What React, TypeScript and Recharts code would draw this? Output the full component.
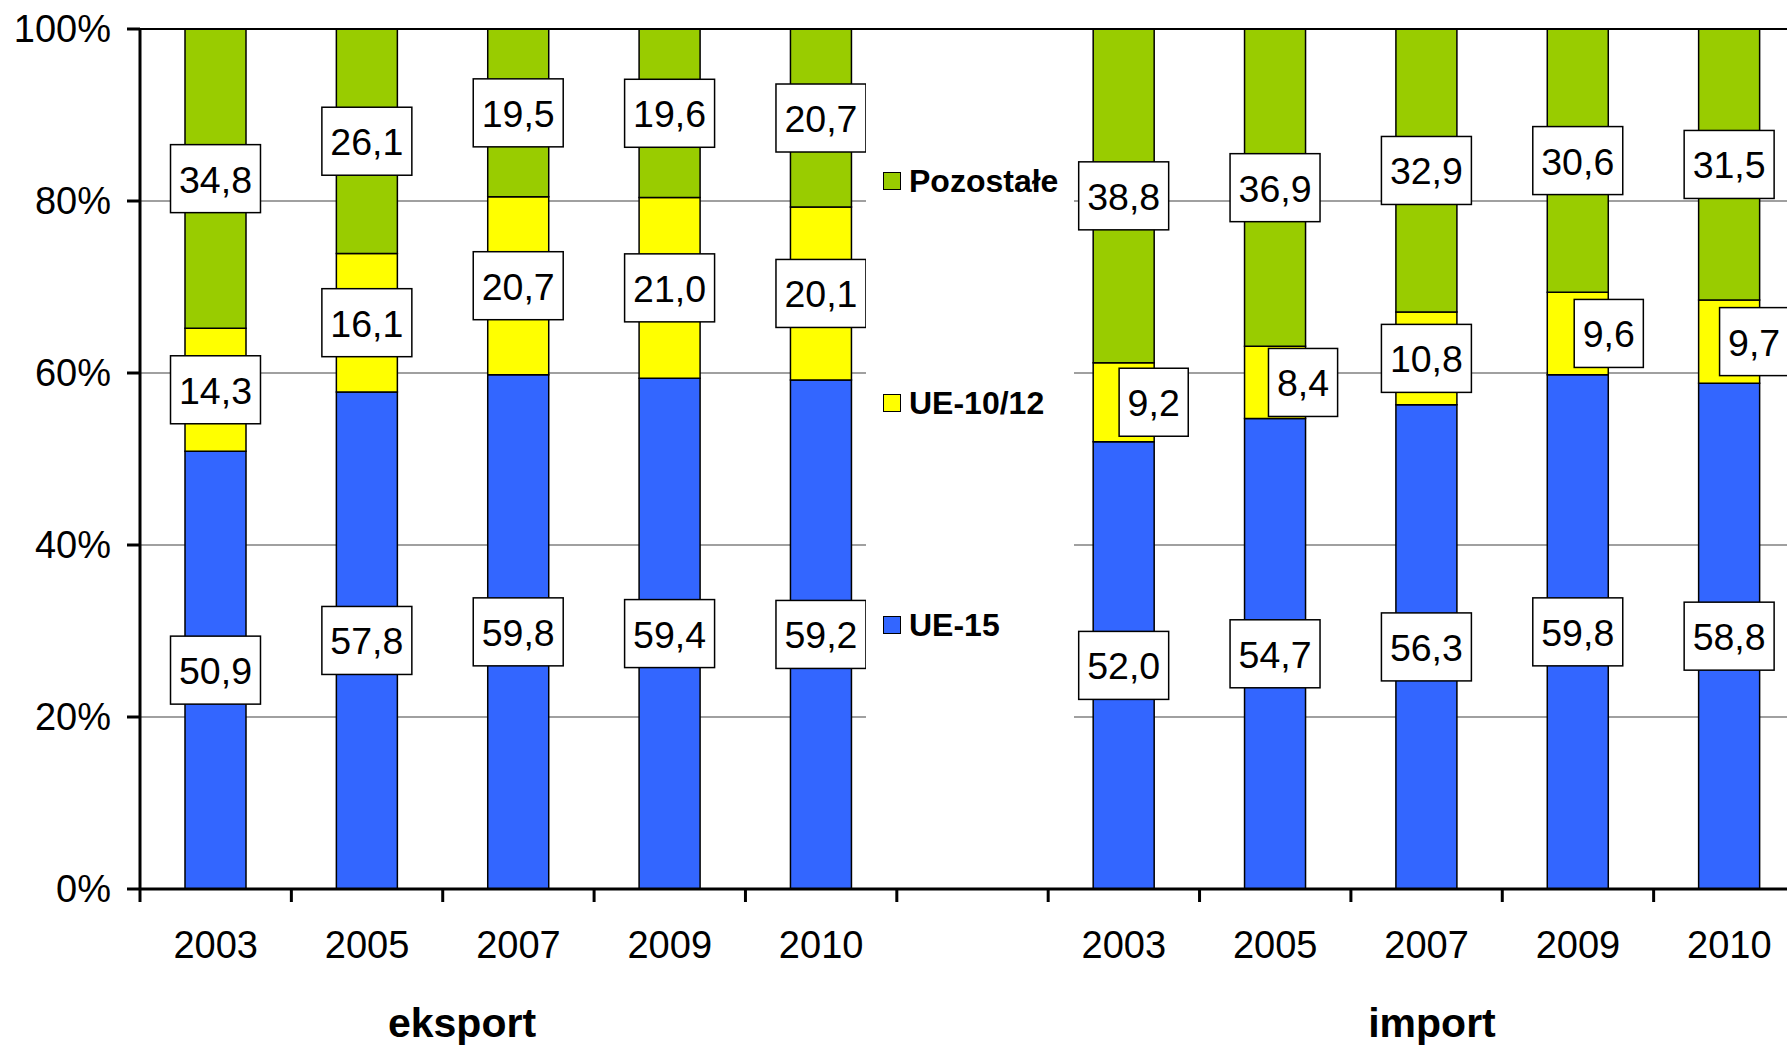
import React from "react";
import {
  BarChart, Bar, XAxis, YAxis, CartesianGrid, LabelList, ReferenceLine
} from "recharts";

const years = ["2003", "2005", "2007", "2009", "2010"];
const groupNames = ["eksport", "import"];
const seriesNames = ["UE-15", "UE-10/12", "Pozostałe"];
const seriesColors = ["#3366FF", "#FFFF00", "#99CC00"];

const eksportUE15 = [50.9, 57.8, 59.8, 59.4, 59.2];
const eksportUE1012 = [14.3, 16.1, 20.7, 21.0, 20.1];
const eksportPozostale = [34.8, 26.1, 19.5, 19.6, 20.7];

const importUE15 = [52.0, 54.7, 56.3, 59.8, 58.8];
const importUE1012 = [9.2, 8.4, 10.8, 9.6, 9.7];
const importPozostale = [38.8, 36.9, 32.9, 30.6, 31.5];

const yTicks = [0, 20, 40, 60, 80, 100];

// nudges (per slot) for the yellow labels that were moved to the right of the bar
const ue1012Shift = [0, 0, 0, 0, 0, 0, 30, 28, 0, 31, 25];

const rows = [
  ...years.map((y, i) => ({
    key: "e" + y, year: y,
    ue15: eksportUE15[i], ue1012: eksportUE1012[i], poz: eksportPozostale[i],
  })),
  { key: "gap", year: "" },
  ...years.map((y, i) => ({
    key: "i" + y, year: y,
    ue15: importUE15[i], ue1012: importUE1012[i], poz: importPozostale[i],
  })),
];

const FONT = "'Liberation Sans', Arial, sans-serif";
const W = 1805;
const H = 1046;
const LEFT = 140;
const TOP = 29;
const XAXIS_H = 157;
const PLOT_BOTTOM = H - XAXIS_H;
const SLOT = (W - LEFT) / rows.length;

const textWidth = (s: string, size: number) =>
  s.split("").reduce((w, c) => w + (c === "," ? 0.278 : 0.556), 0) * size;

const boxLabel = (shift?: number[]) => (props: any) => {
  const { x, y, width, height } = props;
  let value = props.value;
  if (Array.isArray(value)) value = value[1] - value[0];
  if (value == null || isNaN(value)) return null;
  const txt = Number(value).toFixed(1).replace(".", ",");
  const fs = 37.5;
  const bw = textWidth(txt, fs) + 17;
  const bh = 68;
  const slot = Math.floor((x + width / 2 - LEFT) / SLOT);
  const cx = x + width / 2 + (shift ? shift[slot] || 0 : 0);
  const cy = y + height / 2;
  return (
    <g>
      <rect x={cx - bw / 2} y={cy - bh / 2} width={bw} height={bh}
        fill="#fff" stroke="#000" strokeWidth={1.5} />
      <text x={cx} y={cy + 1} textAnchor="middle" dominantBaseline="central"
        fontSize={fs} fontFamily={FONT} fill="#000">{txt}</text>
    </g>
  );
};

const XTick = (props: any) => {
  const { x, payload, index } = props;
  const row = rows[index];
  const label = row ? row.year : payload.value;
  return (
    <g>
      <line x1={x - SLOT / 2} x2={x - SLOT / 2} y1={PLOT_BOTTOM} y2={PLOT_BOTTOM + 13}
        stroke="#000" strokeWidth={3} />
      {index === rows.length - 1 && (
        <line x1={x + SLOT / 2} x2={x + SLOT / 2} y1={PLOT_BOTTOM} y2={PLOT_BOTTOM + 13}
          stroke="#000" strokeWidth={3} />
      )}
      <text x={x} y={945} textAnchor="middle" dominantBaseline="central"
        fontSize={38} fontFamily={FONT} fill="#000">{label}</text>
    </g>
  );
};

const legendItems = [2, 1, 0];
const legendTops = [141, 363, 585];

export default function App() {
  return (
    <div style={{ position: "absolute", left: 0, top: 0, width: 1787, height: 1046,
      overflow: "hidden", background: "#fff", fontFamily: FONT }}>
      <BarChart width={W} height={H} data={rows}
        margin={{ top: TOP, right: 0, bottom: 0, left: 0 }} barSize={61}>
        <CartesianGrid vertical={false} stroke="#808080" strokeWidth={1.5} />
        <XAxis dataKey="key" height={XAXIS_H} interval={0} tickLine={false}
          axisLine={{ stroke: "#000", strokeWidth: 3 }} tick={<XTick />} />
        <YAxis width={LEFT} domain={[0, 100]} ticks={yTicks} interval={0}
          tickFormatter={(v: number) => v + "%"} tickSize={13} tickMargin={16}
          axisLine={{ stroke: "#000", strokeWidth: 3 }}
          tickLine={{ stroke: "#000", strokeWidth: 3 }}
          tick={{ fill: "#000", fontSize: 38, fontFamily: FONT }} />
        <ReferenceLine y={100} stroke="#000" strokeWidth={2} />
        <Bar dataKey="ue15" stackId="a" fill={seriesColors[0]} stroke="#000"
          strokeWidth={1.5} isAnimationActive={false}>
          <LabelList dataKey="ue15" content={boxLabel()} />
        </Bar>
        <Bar dataKey="ue1012" stackId="a" fill={seriesColors[1]} stroke="#000"
          strokeWidth={1.5} isAnimationActive={false}>
          <LabelList dataKey="ue1012" content={boxLabel(ue1012Shift)} />
        </Bar>
        <Bar dataKey="poz" stackId="a" fill={seriesColors[2]} stroke="#000"
          strokeWidth={1.5} isAnimationActive={false}>
          <LabelList dataKey="poz" content={boxLabel()} />
        </Bar>
      </BarChart>

      <div style={{ position: "absolute", left: 866, top: 40, width: 208, height: 830,
        background: "#fff" }}>
        {legendItems.map((s, i) => (
          <div key={s} style={{ position: "absolute", left: 17, top: legendTops[i] - 20,
            height: 40, display: "flex", alignItems: "center" }}>
            <div style={{ width: 16, height: 16, background: seriesColors[s],
              border: "1.5px solid #000" }} />
            <span style={{ marginLeft: 8, fontSize: 32, fontWeight: 700, color: "#000",
              whiteSpace: "nowrap" }}>{seriesNames[s]}</span>
          </div>
        ))}
      </div>

      {groupNames.map((g, i) => (
        <div key={g} style={{ position: "absolute", left: i === 0 ? 462 - 100 : 1432 - 100,
          width: 200, top: 1023 - 25, height: 50, lineHeight: "50px", textAlign: "center",
          fontSize: 41, fontWeight: 700, color: "#000" }}>{g}</div>
      ))}
    </div>
  );
}
